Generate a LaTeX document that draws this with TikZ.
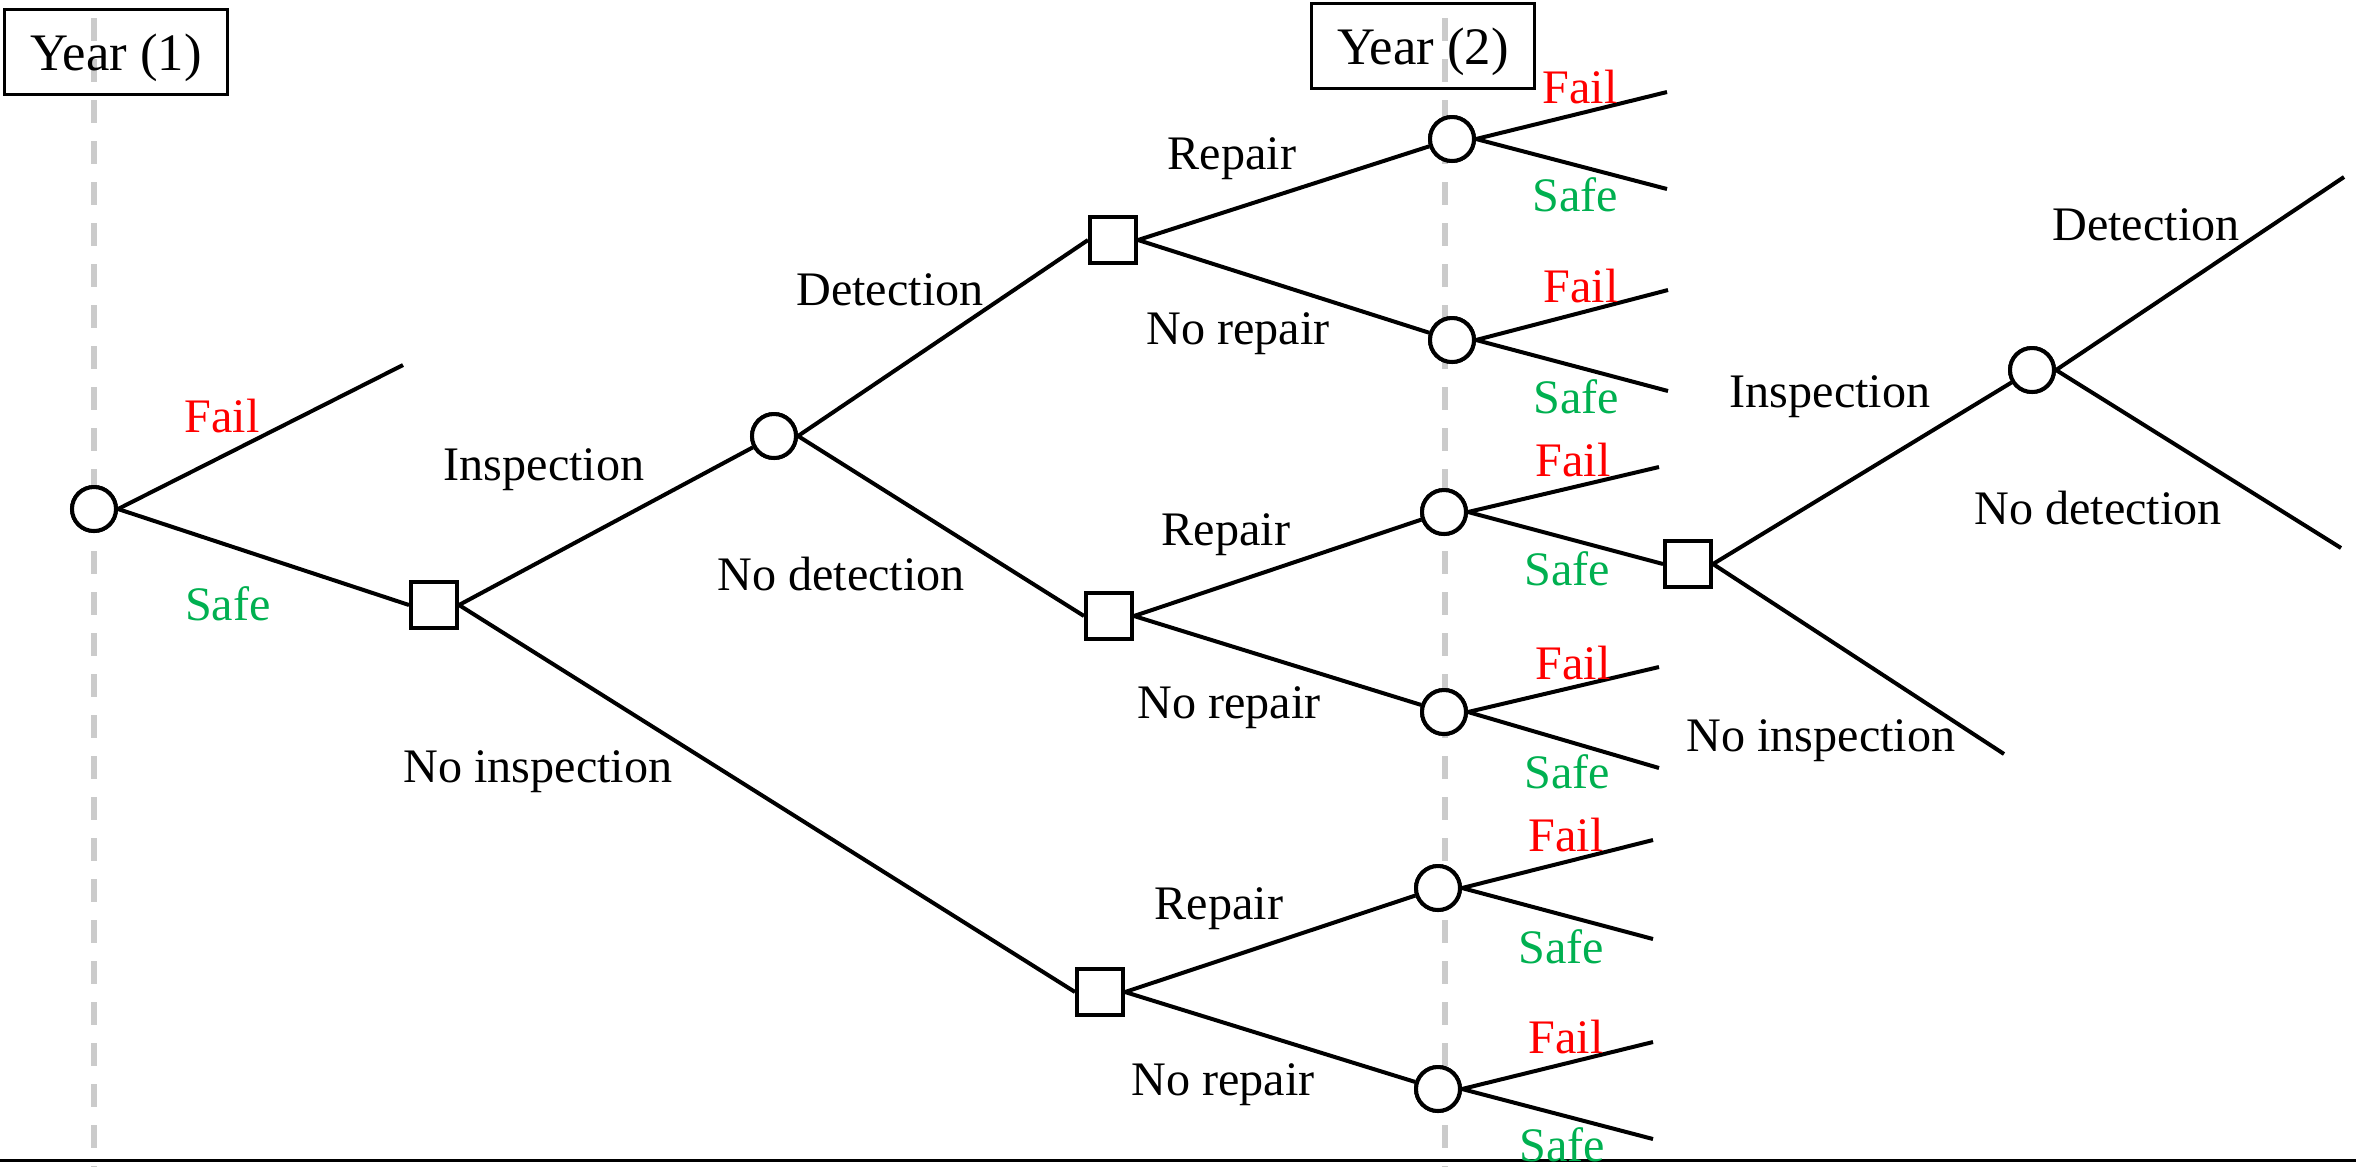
\documentclass[tikz,border=0pt]{standalone}
\usepackage{fontspec}
\setmainfont{Liberation Serif}
\definecolor{failred}{HTML}{FF0000}
\definecolor{safegreen}{HTML}{00B050}
\definecolor{yeargray}{HTML}{CBCBCB}
\tikzset{
  chance/.style={circle,draw,line width=0.4mm,minimum size=4.4mm,inner sep=0pt,fill=white},
  decision/.style={rectangle,draw,line width=0.4mm,minimum size=4.6mm,inner sep=0pt,fill=white},
  branch/.style={line width=0.4mm},
  lbl/.style={font=\fontsize{13.7pt}{16pt}\selectfont,inner sep=0pt},
  faillbl/.style={lbl,text=failred},
  safelbl/.style={lbl,text=safegreen},
  yearbox/.style={draw,line width=0.3mm,font=\fontsize{15pt}{18pt}\selectfont,minimum width=22.3mm,minimum height=8.5mm,inner sep=0pt,text depth=0pt},
  yearline/.style={draw=yeargray,line width=0.6mm,dash pattern=on 2.3mm off 1.8mm}
}
\begin{document}
\begin{tikzpicture}[x=0.1mm,y=-0.1mm]
\useasboundingbox (0,0) rectangle (2356,1167);
% year markers
\coordinate (y1top) at (94,18);
\coordinate (y1bot) at (94,1167);
\coordinate (y2top) at (1445,18);
\coordinate (y2bot) at (1445,1167);
\draw[yearline] (y1top) -- (y1bot);
\draw[yearline] (y2top) -- (y2bot);
\coordinate (baseL) at (0,1160);
\coordinate (baseR) at (2356,1160);
\draw[line width=0.3mm] (baseL) -- (baseR);
\node[yearbox] (year1) at (116,52) {Year (1)};
\node[yearbox] (year2) at (1423,46) {Year (2)};

% nodes
\node[chance] (c0) at (94,509) {};
\node[decision] (s1) at (434,605) {};
\node[chance] (c1) at (774,436) {};
\node[decision] (sni) at (1100,992) {};
\node[decision] (sD) at (1113,240) {};
\node[decision] (sND) at (1109,616) {};
\node[chance] (cA) at (1452,139) {};
\node[chance] (cB) at (1452,340) {};
\node[chance] (cC) at (1444,512) {};
\node[chance] (cD) at (1444,712) {};
\node[chance] (cE) at (1438,888) {};
\node[chance] (cF) at (1438,1089) {};
\node[decision] (sX) at (1688,564) {};
\node[chance] (cX) at (2032,370) {};

% free ends
\coordinate (e0f) at (403,365);
\coordinate (eAf) at (1667,92);
\coordinate (eAs) at (1667,189);
\coordinate (eBf) at (1668,290);
\coordinate (eBs) at (1668,391);
\coordinate (eCf) at (1659,467);
\coordinate (eDf) at (1659,667);
\coordinate (eDs) at (1659,768);
\coordinate (eEf) at (1653,840);
\coordinate (eEs) at (1653,939);
\coordinate (eFf) at (1653,1042);
\coordinate (eFs) at (1653,1139);
\coordinate (eXni) at (2004,754);
\coordinate (eXd) at (2344,177);
\coordinate (eXnd) at (2341,548);

% branches
\draw[branch] (c0.east) -- (e0f);
\draw[branch] (c0.east) -- (s1.west);
\draw[branch] (s1.east) -- (c1);
\draw[branch] (s1.east) -- (sni.west);
\draw[branch] (c1.east) -- (sD.west);
\draw[branch] (c1.east) -- (sND.west);
\draw[branch] (sD.east) -- (cA);
\draw[branch] (sD.east) -- (cB);
\draw[branch] (sND.east) -- (cC);
\draw[branch] (sND.east) -- (cD);
\draw[branch] (sni.east) -- (cE);
\draw[branch] (sni.east) -- (cF);
\draw[branch] (cA.east) -- (eAf);
\draw[branch] (cA.east) -- (eAs);
\draw[branch] (cB.east) -- (eBf);
\draw[branch] (cB.east) -- (eBs);
\draw[branch] (cC.east) -- (eCf);
\draw[branch] (cC.east) -- (sX.west);
\draw[branch] (cD.east) -- (eDf);
\draw[branch] (cD.east) -- (eDs);
\draw[branch] (cE.east) -- (eEf);
\draw[branch] (cE.east) -- (eEs);
\draw[branch] (cF.east) -- (eFf);
\draw[branch] (cF.east) -- (eFs);
\draw[branch] (sX.east) -- (cX);
\draw[branch] (sX.east) -- (eXni);
\draw[branch] (cX.east) -- (eXd);
\draw[branch] (cX.east) -- (eXnd);

% redraw nodes on top of branches
\foreach \n in {c0,c1,cA,cB,cC,cD,cE,cF,cX}{\node[chance] at (\n) {};}
\foreach \n in {s1,sni,sD,sND,sX}{\node[decision] at (\n) {};}

% labels
\node[faillbl] (l0f) at (222,416) {Fail};
\node[safelbl] (l0s) at (228,604) {Safe};
\node[lbl] (lIns) at (544,470) {Inspection};
\node[lbl] (lNoIns) at (538,772) {No inspection};
\node[lbl] (lDet) at (890,290) {Detection};
\node[lbl] (lNoDet) at (841,574) {No detection};
\node[lbl] (lRepA) at (1232,159) {Repair};
\node[lbl] (lNoRepA) at (1238,334) {No repair};
\node[lbl] (lRepB) at (1226,535) {Repair};
\node[lbl] (lNoRepB) at (1229,708) {No repair};
\node[lbl] (lRepC) at (1219,909) {Repair};
\node[lbl] (lNoRepC) at (1223,1085) {No repair};
\node[faillbl] (lAf) at (1580,87) {Fail};
\node[safelbl] (lAs) at (1575,195) {Safe};
\node[faillbl] (lBf) at (1581,286) {Fail};
\node[safelbl] (lBs) at (1576,397) {Safe};
\node[faillbl] (lCf) at (1573,460) {Fail};
\node[safelbl] (lCs) at (1567,569) {Safe};
\node[faillbl] (lDf) at (1573,663) {Fail};
\node[safelbl] (lDs) at (1567,772) {Safe};
\node[faillbl] (lEf) at (1566,835) {Fail};
\node[safelbl] (lEs) at (1561,947) {Safe};
\node[faillbl] (lFf) at (1566,1037) {Fail};
\node[safelbl] (lFs) at (1562,1145) {Safe};
\node[lbl] (lInsX) at (1830,397) {Inspection};
\node[lbl] (lNoInsX) at (1821,741) {No inspection};
\node[lbl] (lDetX) at (2146,225) {Detection};
\node[lbl] (lNoDetX) at (2098,508) {No detection};
\end{tikzpicture}
\end{document}
